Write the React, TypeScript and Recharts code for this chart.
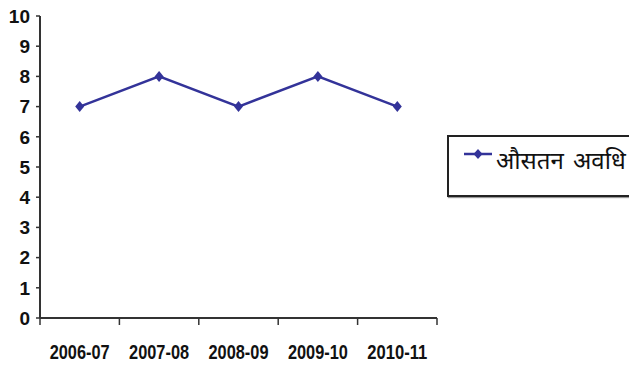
import { LineChart, Line, XAxis, YAxis, Legend } from 'recharts';

// Average duration per year
const categories = ['2006-07', '2007-08', '2008-09', '2009-10', '2010-11'];
const averageDuration = [7, 8, 7, 8, 7];
const yTicks = [0, 1, 2, 3, 4, 5, 6, 7, 8, 9, 10];
const seriesName = 'औसतन अवधि';

const LINE_COLOR = '#333399';
const AXIS_COLOR = '#333';

const data = categories.map((label, i) => ({ pos: i + 1, label, value: averageDuration[i] }));

// ticks at category centres (labels) and at the boundaries between them (tick marks)
const xTicks: number[] = [];
for (let i = 0; i <= categories.length; i++) {
  xTicks.push(i + 0.5);
  if (i < categories.length) xTicks.push(i + 1);
}

const XTick = ({ x, y, payload }: any) => {
  const v = payload.value as number;
  if (Number.isInteger(v)) {
    // condensed bold labels
    return (
      <text
        x={x}
        y={y + 41}
        textAnchor="middle"
        fontFamily='"Liberation Sans", sans-serif'
        fontWeight="bold"
        fontSize={20}
        fill="#111"
        textLength={60}
        lengthAdjust="spacingAndGlyphs"
      >
        {categories[v - 1]}
      </text>
    );
  }
  return <line x1={x} x2={x} y1={y} y2={y + 7} stroke={AXIS_COLOR} strokeWidth={1.5} />;
};

const Diamond = ({ cx, cy, index }: any) => (
  <polygon
    key={`dot-${index}`}
    points={`${cx},${cy - 5.5} ${cx + 4.5},${cy} ${cx},${cy + 5.5} ${cx - 4.5},${cy}`}
    fill={LINE_COLOR}
  />
);

const renderLegend = () => (
  <div
    style={{
      width: 182,
      height: 62,
      boxSizing: 'border-box',
      border: '2px solid #222',
      borderRight: 'none',
      boxShadow: '1px 1px 1px #999',
      background: '#fff',
      position: 'relative',
    }}
  >
    <svg width={40} height={30} style={{ position: 'absolute', left: 12, top: 5 }}>
      <line x1={3} x2={31} y1={12} y2={12} stroke={LINE_COLOR} strokeWidth={2.5} />
      <polygon points="17,7 21.5,12 17,17 12.5,12" fill={LINE_COLOR} />
    </svg>
    <span
      style={{
        position: 'absolute',
        left: 47,
        top: 8,
        fontFamily: '"Noto Sans", sans-serif',
        fontSize: 24,
        lineHeight: '30px',
        wordSpacing: 3,
        color: '#111',
        whiteSpace: 'nowrap',
      }}
    >
      {seriesName}
    </span>
  </div>
);

export default function App() {
  return (
    <div style={{ position: 'absolute', left: 0, top: 0, width: 629, height: 369, background: '#fff', overflow: 'hidden' }}>
      <LineChart
        width={629}
        height={369}
        data={data}
        margin={{ top: 16, right: 192, bottom: 0, left: 0 }}
      >
        <XAxis
          dataKey="pos"
          type="number"
          domain={[0.5, categories.length + 0.5]}
          ticks={xTicks}
          interval={0}
          height={51}
          tickSize={0}
          tickMargin={0}
          tickLine={false}
          tick={<XTick />}
          axisLine={{ stroke: AXIS_COLOR, strokeWidth: 2 }}
        />
        <YAxis
          domain={[0, 10]}
          ticks={yTicks}
          interval={0}
          width={40}
          tickSize={4}
          tickMargin={6}
          tickLine={{ stroke: AXIS_COLOR, strokeWidth: 1.5 }}
          axisLine={{ stroke: AXIS_COLOR, strokeWidth: 2 }}
          tick={{ fill: '#111', fontSize: 19, fontWeight: 'bold', fontFamily: '"Liberation Sans", sans-serif' }}
        />
        <Legend
          layout="horizontal"
          verticalAlign="middle"
          align="center"
          content={renderLegend}
          wrapperStyle={{ left: 447, top: 135, width: 182 }}
        />
        <Line
          type="linear"
          dataKey="value"
          name={seriesName}
          stroke={LINE_COLOR}
          strokeWidth={2.5}
          dot={(p: any) => <Diamond {...p} />}
          isAnimationActive={false}
        />
      </LineChart>
    </div>
  );
}
